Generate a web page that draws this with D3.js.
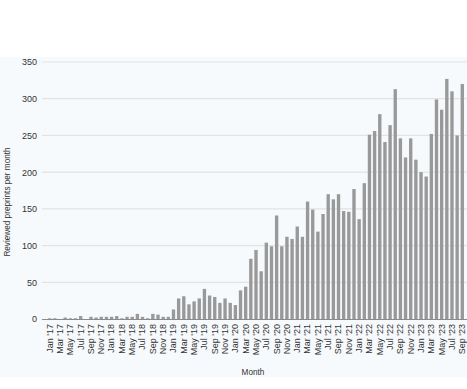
<!DOCTYPE html>
<html>
<head>
<meta charset="utf-8">
<script src="https://cdn.jsdelivr.net/npm/d3@7"></script>
<style>
  body { margin: 0; background: #fff; }
  text { font-family: "Liberation Sans", Arial, sans-serif; }
</style>
</head>
<body>
<div class="chart"></div>
<script>
// month labels, Jan '17 .. Sep '23
const monthNames = ["Jan","Feb","Mar","Apr","May","Jun","Jul","Aug","Sep","Oct","Nov","Dec"];
const years = ["17","18","19","20","21","22","23"];

// reviewed preprints per month
const counts2017 = [1, 1, 0, 2, 1, 1, 4, 0, 3, 2, 3, 3];
const counts2018 = [3, 4, 1, 3, 3, 7, 3, 1, 7, 6, 3, 3];
const counts2019 = [13, 28, 31, 20, 24, 28, 41, 32, 30, 22, 28, 22];
const counts2020 = [19, 39, 44, 82, 94, 65, 104, 99, 141, 99, 112, 109];
const counts2021 = [126, 112, 160, 149, 119, 143, 170, 163, 170, 147, 146, 177];
const counts2022 = [136, 185, 251, 256, 279, 241, 264, 313, 246, 220, 246, 217];
const counts2023 = [200, 194, 252, 299, 285, 327, 310, 250, 320];

const yTicks = [0, 50, 100, 150, 200, 250, 300, 350];

const allCounts = [counts2017, counts2018, counts2019, counts2020, counts2021, counts2022, counts2023];
const data = [];
allCounts.forEach((arr, yi) => {
    arr.forEach((v, mi) => {
        data.push({label: monthNames[mi] + " '" + years[yi], value: v});
    });
});

const width = 467, height = 389;

const svg = d3.select(".chart").append("svg")
    .attr("width", width)
    .attr("height", height);

// light panel behind the plot
svg.append("rect")
    .attr("x", 0)
    .attr("y", 57)
    .attr("width", width)
    .attr("height", 320)
    .attr("fill", "#f7fafc");

const xScale = d3.scaleBand()
    .domain(data.map(d => d.label))
    .range([47, 465])
    .paddingInner(0.35)
    .paddingOuter(0.2);

const yScale = d3.scaleLinear()
    .domain([0, 350])
    .range([319, 62]);

// gridlines
svg.append("g")
    .selectAll("line")
    .data(yTicks.filter(t => t > 0))
    .join("line")
    .attr("x1", 42)
    .attr("x2", width)
    .attr("y1", d => yScale(d))
    .attr("y2", d => yScale(d))
    .attr("stroke", "#e1e3e4")
    .attr("stroke-width", 1.2);

// y axis labels
const yAxis = d3.axisLeft(yScale)
    .tickValues(yTicks)
    .tickSize(0)
    .tickPadding(0);

svg.append("g")
    .attr("transform", "translate(37,0)")
    .call(yAxis)
    .call(g => g.select(".domain").remove())
    .selectAll("text")
    .attr("font-size", 9)
    .attr("fill", "#333")
    .attr("font-family", "Liberation Sans, Arial, sans-serif");

// bars
svg.append("g")
    .selectAll("rect")
    .data(data)
    .join("rect")
    .attr("x", d => xScale(d.label))
    .attr("width", xScale.bandwidth())
    .attr("y", d => yScale(d.value))
    .attr("height", d => yScale(0) - yScale(d.value))
    .attr("fill", "#999999");

// baseline
svg.append("line")
    .attr("x1", 42)
    .attr("x2", width)
    .attr("y1", yScale(0) + 0.5)
    .attr("y2", yScale(0) + 0.5)
    .attr("stroke", "#8a8a8a")
    .attr("stroke-width", 1);

// x axis, every other month
const xAxis = d3.axisBottom(xScale)
    .tickValues(data.filter((d, i) => i % 2 === 0).map(d => d.label))
    .tickSize(0)
    .tickPadding(0);

const xAxisChart = svg.append("g")
    .attr("transform", `translate(0, ${yScale(0)})`)
    .call(xAxis);

xAxisChart.select(".domain").remove();

xAxisChart.selectAll("text")
    .attr("font-size", 9)
    .attr("fill", "#333")
    .attr("font-family", "Liberation Sans, Arial, sans-serif")
    .attr("text-anchor", "end")
    .attr("dy", "0.32em")
    .attr("transform", "translate(0,5) rotate(-90)")
    .attr("y", 0)
    .attr("x", 0);

// axis titles
svg.append("text")
    .attr("transform", "translate(10,202) rotate(-90)")
    .attr("text-anchor", "middle")
    .attr("font-size", 8.2)
    .attr("fill", "#333")
    .text("Reviewed preprints per month");

svg.append("text")
    .attr("x", 253)
    .attr("y", 375)
    .attr("text-anchor", "middle")
    .attr("font-size", 8.2)
    .attr("fill", "#333")
    .text("Month");
</script>
</body>
</html>
